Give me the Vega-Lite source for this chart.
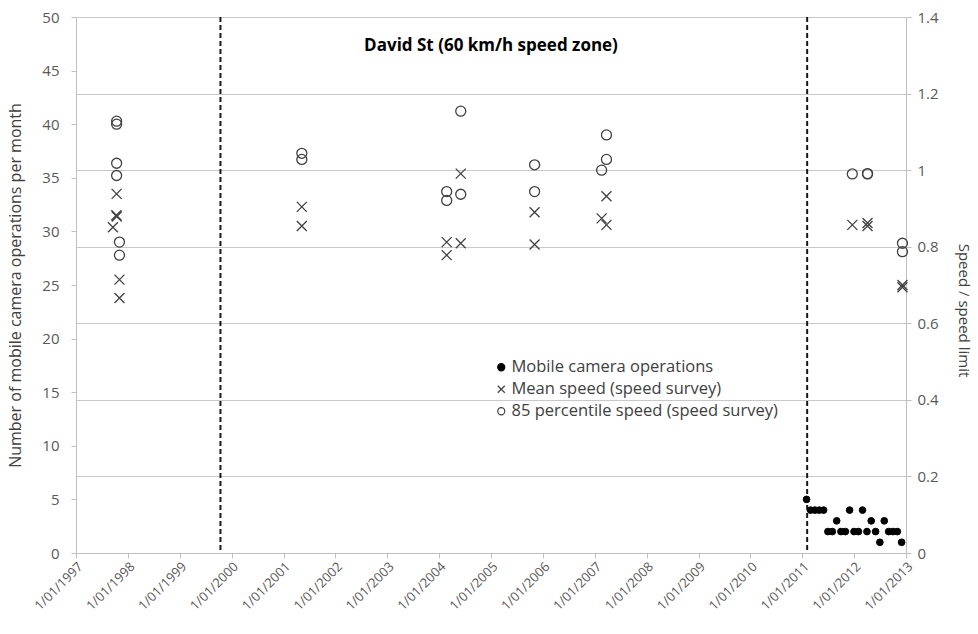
{
  "$schema": "https://vega.github.io/schema/vega-lite/v6.json",
  "width": 830,
  "height": 536,
  "autosize": {"type": "none"},
  "padding": {"left": 76, "top": 17, "right": 72, "bottom": 81},
  "background": "white",
  "config": {
    "font": "Open Sans",
    "view": {"stroke": null},
    "axis": {
      "domainColor": "#bfbfbf",
      "tickColor": "#bfbfbf",
      "tickSize": 5,
      "labelColor": "#595959",
      "labelFontSize": 15,
      "titleColor": "#404040",
      "titleFontSize": 15,
      "titleFontWeight": "normal",
      "gridColor": "#c8c8c8"
    },
    "legend": {
      "labelFontSize": 16.5,
      "labelColor": "#404040",
      "labelLimit": 500,
      "labelOffset": 2,
      "symbolSize": 50,
      "symbolStrokeWidth": 1.2,
      "rowPadding": 5
    }
  },
  "title": {
    "text": "David St (60 km/h speed zone)",
    "fontSize": 17,
    "fontWeight": "bold",
    "color": "#000000",
    "anchor": "middle",
    "offset": -45
  },
  "encoding": {
    "x": {
      "field": "date",
      "type": "temporal",
      "scale": {
        "type": "utc",
        "domain": [
          {"year": 1997, "month": 1, "date": 1, "utc": true},
          {"year": 2013, "month": 1, "date": 1, "utc": true}
        ]
      },
      "axis": {
        "title": null,
        "grid": false,
        "labelExpr": "utcFormat(datum.value, '%-d/%m/%Y')",
        "labelAngle": -45,
        "labelFontSize": 13,
        "labelOverlap": false,
        "labelBound": false,
        "values": [
          {"year": 1997, "month": 1, "date": 1, "utc": true},
          {"year": 1998, "month": 1, "date": 1, "utc": true},
          {"year": 1999, "month": 1, "date": 1, "utc": true},
          {"year": 2000, "month": 1, "date": 1, "utc": true},
          {"year": 2001, "month": 1, "date": 1, "utc": true},
          {"year": 2002, "month": 1, "date": 1, "utc": true},
          {"year": 2003, "month": 1, "date": 1, "utc": true},
          {"year": 2004, "month": 1, "date": 1, "utc": true},
          {"year": 2005, "month": 1, "date": 1, "utc": true},
          {"year": 2006, "month": 1, "date": 1, "utc": true},
          {"year": 2007, "month": 1, "date": 1, "utc": true},
          {"year": 2008, "month": 1, "date": 1, "utc": true},
          {"year": 2009, "month": 1, "date": 1, "utc": true},
          {"year": 2010, "month": 1, "date": 1, "utc": true},
          {"year": 2011, "month": 1, "date": 1, "utc": true},
          {"year": 2012, "month": 1, "date": 1, "utc": true},
          {"year": 2013, "month": 1, "date": 1, "utc": true}
        ]
      }
    }
  },
  "layer": [
    {
      "data": {"values": [{"date": "1999-10-15"}, {"date": "2011-02-05"}]},
      "mark": {"type": "rule", "color": "#1a1a1a", "strokeWidth": 2, "strokeDash": [5, 3]},
      "encoding": {}
    },
    {
      "data": {
        "values": [
          {"date": "2011-02-01", "ops": 5, "series": "Mobile camera operations"},
          {"date": "2011-03-01", "ops": 4, "series": "Mobile camera operations"},
          {"date": "2011-04-01", "ops": 4, "series": "Mobile camera operations"},
          {"date": "2011-05-01", "ops": 4, "series": "Mobile camera operations"},
          {"date": "2011-06-01", "ops": 4, "series": "Mobile camera operations"},
          {"date": "2011-07-01", "ops": 2, "series": "Mobile camera operations"},
          {"date": "2011-08-01", "ops": 2, "series": "Mobile camera operations"},
          {"date": "2011-09-01", "ops": 3, "series": "Mobile camera operations"},
          {"date": "2011-10-01", "ops": 2, "series": "Mobile camera operations"},
          {"date": "2011-11-01", "ops": 2, "series": "Mobile camera operations"},
          {"date": "2011-12-01", "ops": 4, "series": "Mobile camera operations"},
          {"date": "2012-01-01", "ops": 2, "series": "Mobile camera operations"},
          {"date": "2012-02-01", "ops": 2, "series": "Mobile camera operations"},
          {"date": "2012-03-01", "ops": 4, "series": "Mobile camera operations"},
          {"date": "2012-04-01", "ops": 2, "series": "Mobile camera operations"},
          {"date": "2012-05-01", "ops": 3, "series": "Mobile camera operations"},
          {"date": "2012-06-01", "ops": 2, "series": "Mobile camera operations"},
          {"date": "2012-07-01", "ops": 1, "series": "Mobile camera operations"},
          {"date": "2012-08-01", "ops": 3, "series": "Mobile camera operations"},
          {"date": "2012-09-01", "ops": 2, "series": "Mobile camera operations"},
          {"date": "2012-10-01", "ops": 2, "series": "Mobile camera operations"},
          {"date": "2012-11-01", "ops": 2, "series": "Mobile camera operations"},
          {"date": "2012-12-01", "ops": 1, "series": "Mobile camera operations"}
        ]
      },
      "mark": {"type": "point", "size": 45, "strokeWidth": 1, "opacity": 1},
      "encoding": {
        "y": {
          "field": "ops",
          "type": "quantitative",
          "scale": {"domain": [0, 50]},
          "axis": {
            "orient": "left",
            "title": "Number of mobile camera operations per month",
            "titleFontSize": 16,
            "grid": false,
            "labelPadding": 12,
            "values": [0, 5, 10, 15, 20, 25, 30, 35, 40, 45, 50],
            "titlePadding": 18
          }
        },
        "shape": {
          "field": "series",
          "type": "nominal",
          "scale": {
            "domain": ["Mobile camera operations", "Mean speed (speed survey)", "85 percentile speed (speed survey)"],
            "range": ["circle", "M-1,-1L1,1M-1,1L1,-1", "circle"]
          },
          "legend": {"title": null, "orient": "none", "legendX": 417, "legendY": 342}
        },
        "fill": {
          "field": "series",
          "type": "nominal",
          "scale": {
            "domain": ["Mobile camera operations", "Mean speed (speed survey)", "85 percentile speed (speed survey)"],
            "range": ["#000000", "transparent", "transparent"]
          },
          "legend": {"title": null, "orient": "none", "legendX": 417, "legendY": 342}
        },
        "stroke": {
          "field": "series",
          "type": "nominal",
          "scale": {
            "domain": ["Mobile camera operations", "Mean speed (speed survey)", "85 percentile speed (speed survey)"],
            "range": ["#000000", "#404040", "#404040"]
          },
          "legend": {"title": null, "orient": "none", "legendX": 417, "legendY": 342}
        }
      }
    },
    {
      "data": {
        "values": [
          {"date": "1997-09-18", "ratio": 0.851, "series": "Mean speed (speed survey)"},
          {"date": "1997-10-14", "ratio": 0.938, "series": "Mean speed (speed survey)"},
          {"date": "1997-10-12", "ratio": 0.882, "series": "Mean speed (speed survey)"},
          {"date": "1997-10-15", "ratio": 0.879, "series": "Mean speed (speed survey)"},
          {"date": "1997-11-03", "ratio": 0.714, "series": "Mean speed (speed survey)"},
          {"date": "1997-11-03", "ratio": 0.666, "series": "Mean speed (speed survey)"},
          {"date": "1997-10-14", "ratio": 1.128, "series": "85 percentile speed (speed survey)"},
          {"date": "1997-10-14", "ratio": 1.12, "series": "85 percentile speed (speed survey)"},
          {"date": "1997-10-14", "ratio": 1.018, "series": "85 percentile speed (speed survey)"},
          {"date": "1997-10-14", "ratio": 0.986, "series": "85 percentile speed (speed survey)"},
          {"date": "1997-11-03", "ratio": 0.812, "series": "85 percentile speed (speed survey)"},
          {"date": "1997-11-03", "ratio": 0.778, "series": "85 percentile speed (speed survey)"},
          {"date": "2001-05-10", "ratio": 0.904, "series": "Mean speed (speed survey)"},
          {"date": "2001-05-10", "ratio": 0.854, "series": "Mean speed (speed survey)"},
          {"date": "2001-05-10", "ratio": 1.044, "series": "85 percentile speed (speed survey)"},
          {"date": "2001-05-10", "ratio": 1.028, "series": "85 percentile speed (speed survey)"},
          {"date": "2004-02-24", "ratio": 0.812, "series": "Mean speed (speed survey)"},
          {"date": "2004-02-24", "ratio": 0.778, "series": "Mean speed (speed survey)"},
          {"date": "2004-02-24", "ratio": 0.944, "series": "85 percentile speed (speed survey)"},
          {"date": "2004-02-24", "ratio": 0.921, "series": "85 percentile speed (speed survey)"},
          {"date": "2004-06-02", "ratio": 0.991, "series": "Mean speed (speed survey)"},
          {"date": "2004-06-02", "ratio": 0.809, "series": "Mean speed (speed survey)"},
          {"date": "2004-06-02", "ratio": 1.154, "series": "85 percentile speed (speed survey)"},
          {"date": "2004-06-02", "ratio": 0.937, "series": "85 percentile speed (speed survey)"},
          {"date": "2005-11-04", "ratio": 0.89, "series": "Mean speed (speed survey)"},
          {"date": "2005-11-04", "ratio": 0.806, "series": "Mean speed (speed survey)"},
          {"date": "2005-11-04", "ratio": 1.014, "series": "85 percentile speed (speed survey)"},
          {"date": "2005-11-04", "ratio": 0.944, "series": "85 percentile speed (speed survey)"},
          {"date": "2007-02-19", "ratio": 0.874, "series": "Mean speed (speed survey)"},
          {"date": "2007-02-19", "ratio": 1.0, "series": "85 percentile speed (speed survey)"},
          {"date": "2007-03-25", "ratio": 0.932, "series": "Mean speed (speed survey)"},
          {"date": "2007-03-25", "ratio": 0.857, "series": "Mean speed (speed survey)"},
          {"date": "2007-03-25", "ratio": 1.092, "series": "85 percentile speed (speed survey)"},
          {"date": "2007-03-25", "ratio": 1.028, "series": "85 percentile speed (speed survey)"},
          {"date": "2011-12-20", "ratio": 0.857, "series": "Mean speed (speed survey)"},
          {"date": "2011-12-20", "ratio": 0.99, "series": "85 percentile speed (speed survey)"},
          {"date": "2012-04-05", "ratio": 0.862, "series": "Mean speed (speed survey)"},
          {"date": "2012-04-05", "ratio": 0.854, "series": "Mean speed (speed survey)"},
          {"date": "2012-04-05", "ratio": 0.99, "series": "85 percentile speed (speed survey)"},
          {"date": "2012-04-05", "ratio": 0.991, "series": "85 percentile speed (speed survey)"},
          {"date": "2012-12-07", "ratio": 0.7, "series": "Mean speed (speed survey)"},
          {"date": "2012-12-07", "ratio": 0.694, "series": "Mean speed (speed survey)"},
          {"date": "2012-12-07", "ratio": 0.809, "series": "85 percentile speed (speed survey)"},
          {"date": "2012-12-07", "ratio": 0.787, "series": "85 percentile speed (speed survey)"}
        ]
      },
      "mark": {"type": "point", "size": 100, "strokeWidth": 1.3, "opacity": 1},
      "encoding": {
        "y": {
          "field": "ratio",
          "type": "quantitative",
          "scale": {"domain": [0, 1.4]},
          "axis": {
            "orient": "right",
            "title": "Speed / speed limit",
            "grid": true,
            "format": "~g",
            "labelPadding": 6,
            "values": [0, 0.2, 0.4, 0.6, 0.8, 1, 1.2, 1.4],
            "titlePadding": 17,
            "titleY": 293
          }
        },
        "shape": {"field": "series", "type": "nominal"},
        "fill": {"field": "series", "type": "nominal"},
        "stroke": {"field": "series", "type": "nominal"}
      }
    }
  ],
  "resolve": {"scale": {"y": "independent"}}
}
